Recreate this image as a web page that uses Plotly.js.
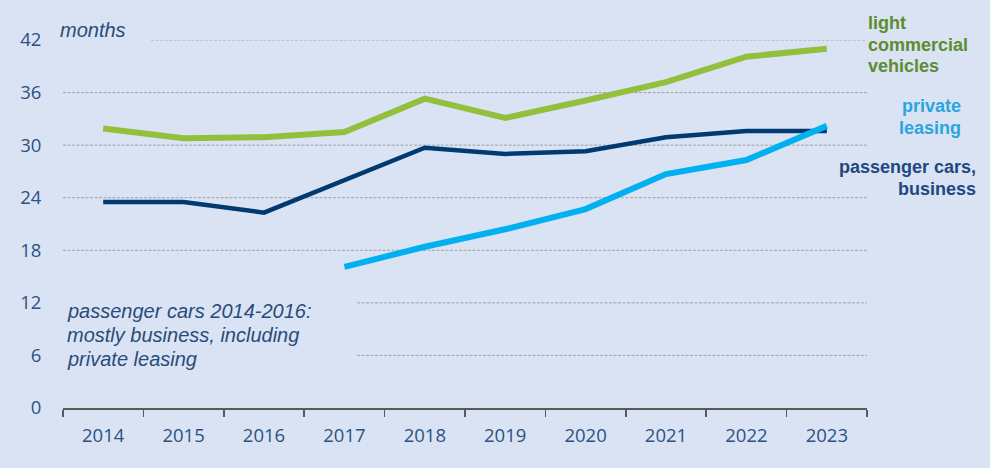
<!DOCTYPE html>
<html>
<head>
<meta charset="utf-8">
<script src="https://cdn.plot.ly/plotly-3.0.1.min.js"></script>
<style>html,body{margin:0;padding:0;background:#dae3f3;}#chart{width:990px;height:468px;}</style>
</head>
<body>
<div id="chart"></div>
<script>
// ---- data ----
var years = ['2014','2015','2016','2017','2018','2019','2020','2021','2022','2023'];
var lightCommercial = [31.9, 30.8, 30.9, 31.5, 35.3, 33.1, 35.1, 37.2, 40.1, 41.0];
var passengerBusiness = [23.5, 23.5, 22.3, 26.0, 29.7, 29.0, 29.3, 30.9, 31.6, 31.6];
var privateLeasing = [null, null, null, 16.1, 18.4, 20.4, 22.7, 26.7, 28.3, 32.2];
var yTicks = [0, 6, 12, 18, 24, 30, 36, 42];

// ---- layout helpers (pixel -> paper) ----
var L = 63, R = 867, T = 40, B = 408;
function xp(px){ return (px - L) / (R - L); }
function yp(py){ return (B - py) / (B - T); }

var BG = '#dae3f3';
var NAVY = '#003a70', GREEN = '#92c03c', CYAN = '#00b0f0';

var traces = [
  {x: years, y: passengerBusiness, type: 'scatter', mode: 'lines', name: 'passenger cars, business',
   line: {color: NAVY, width: 4.5}, hoverinfo: 'skip'},
  {x: years, y: lightCommercial, type: 'scatter', mode: 'lines', name: 'light commercial vehicles',
   line: {color: GREEN, width: 6}, hoverinfo: 'skip'},
  {x: years, y: privateLeasing, type: 'scatter', mode: 'lines', name: 'private leasing',
   line: {color: CYAN, width: 6}, hoverinfo: 'skip', connectgaps: false}
];

// gridlines drawn as shapes so that they can start where the reference starts them
var gridStart = {6: 357, 12: 357, 18: 63, 24: 63, 30: 63, 36: 63, 42: 151};
var shapes = [];
yTicks.forEach(function(v){
  if (v === 0) return;
  shapes.push({type: 'line', xref: 'paper', yref: 'y', x0: xp(gridStart[v]), x1: 1, y0: v, y1: v,
    line: {color: '#a3a3a3', width: 1, dash: '3px,1.5px'}, layer: 'below'});
});

function ann(text, px, py, anchor, color, size, bold, italic){
  var t = text;
  if (bold) t = '<b>' + t + '</b>';
  if (italic) t = '<i>' + t + '</i>';
  return {text: t, xref: 'paper', yref: 'paper', x: xp(px), y: yp(py), xanchor: anchor, yanchor: 'middle',
    showarrow: false, font: {family: 'Liberation Sans, Arial, sans-serif', size: size, color: color}, borderpad: 0};
}
var LBL_GREEN = '#5b8d30', LBL_CYAN = '#2aa5e0', LBL_NAVY = '#1f4880', TXT_NAVY = '#284c7c';
var annotations = [
  ann('light', 867, 23, 'left', LBL_GREEN, 18, true),
  ann('commercial', 867, 45, 'left', LBL_GREEN, 18, true),
  ann('vehicles', 867, 66, 'left', LBL_GREEN, 18, true),
  ann('private', 962, 106, 'right', LBL_CYAN, 18, true),
  ann('leasing', 962, 128, 'right', LBL_CYAN, 18, true),
  ann('passenger cars,', 977, 167, 'right', LBL_NAVY, 18, true),
  ann('business', 977, 189, 'right', LBL_NAVY, 18, true),
  ann('months', 59, 30, 'left', TXT_NAVY, 20, false, true),
  ann('passenger cars 2014-2016:', 66, 311, 'left', TXT_NAVY, 20, false, true),
  ann('mostly business, including', 66, 335, 'left', TXT_NAVY, 20, false, true),
  ann('private leasing', 66, 359, 'left', TXT_NAVY, 20, false, true)
];

var layout = {
  width: 990, height: 468,
  margin: {l: L, r: 990 - R, t: T, b: 468 - B, pad: 0},
  paper_bgcolor: BG, plot_bgcolor: BG,
  showlegend: false,
  xaxis: {
    type: 'category', categoryarray: years, range: [-0.5, 9.5],
    showgrid: false, zeroline: false,
    showline: true, linecolor: '#595959', linewidth: 1.5,
    ticks: 'outside', tickson: 'boundaries', ticklen: 7, tickcolor: '#595959', tickwidth: 1.5,
    tickfont: {family: 'Open Sans, sans-serif', size: 18.5, color: '#2b5282'},
    ticklabelstandoff: 10, fixedrange: true
  },
  yaxis: {
    range: [0, 42], tickvals: yTicks, ticktext: yTicks.map(String),
    showgrid: false, zeroline: false, showline: false,
    ticks: 'outside', ticklen: 17, tickcolor: 'rgba(0,0,0,0)',
    tickfont: {family: 'Open Sans, sans-serif', size: 18.5, color: '#2b5282'},
    fixedrange: true
  },
  shapes: shapes,
  annotations: annotations
};

Plotly.newPlot('chart', traces, layout, {staticPlot: true, displayModeBar: false});
</script>
</body>
</html>
